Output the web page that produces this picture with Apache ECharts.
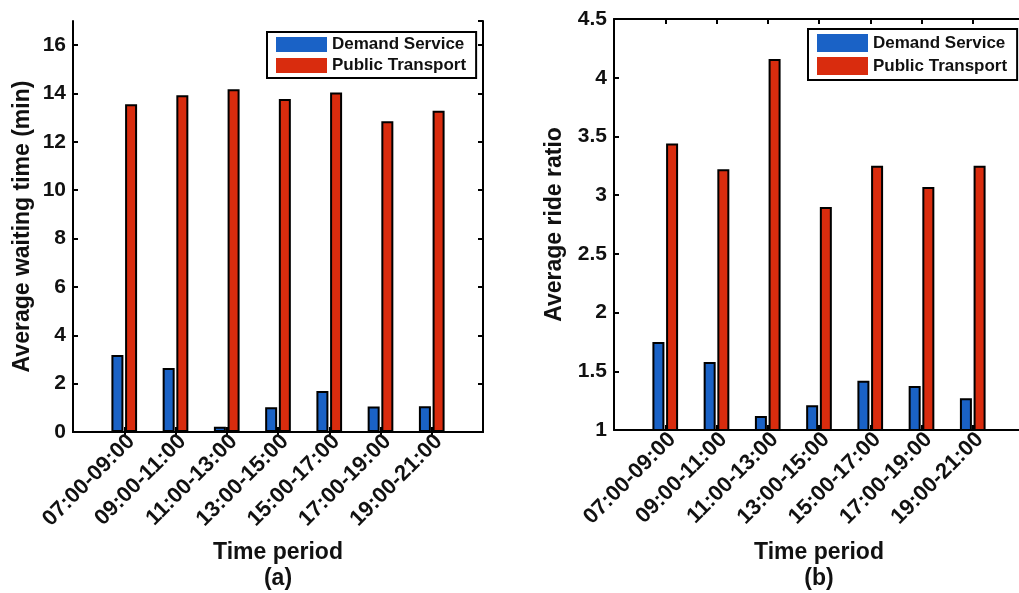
<!DOCTYPE html>
<html><head><meta charset="utf-8">
<script src="https://cdn.jsdelivr.net/npm/echarts@6/dist/echarts.min.js"></script>
<style>html,body{margin:0;padding:0;background:#fff}#c{width:1019px;height:593px}</style>
</head><body><div id="c"></div>
<script>
// ---- data ----
const categories = ['07:00-09:00','09:00-11:00','11:00-13:00','13:00-15:00','15:00-17:00','17:00-19:00','19:00-21:00'];
const seriesNames = ['Demand Service', 'Public Transport'];
const waitDemand = [3.18, 2.65, 0.22, 1.02, 1.70, 1.05, 1.07];
const waitPublic = [13.56, 13.93, 14.18, 13.77, 14.04, 12.85, 13.29];
const rideDemand = [1.75, 1.58, 1.12, 1.21, 1.42, 1.375, 1.27];
const ridePublic = [3.44, 3.22, 4.16, 2.90, 3.25, 3.07, 3.25];
const waitRange = [0, 17, 2];      // min, max, interval
const rideRange = [1, 4.5, 0.5];
const panelLabels = ['(a)', '(b)'];
const yNames = ['Average waiting time (min)', 'Average ride ratio'];
const xName = 'Time period';

// ---- build ----
const FONT = "'Liberation Sans', Arial, Helvetica, sans-serif";
const BLUE = '#1a62c6';
const RED = '#d92c0e';
const padCats = [''].concat(categories, ['']);
const pad = arr => ['-'].concat(arr, ['-']);
const tickFn = (i, v) => v !== '';
const LINE = { color: '#000', width: 2 };

function xAxes(gi, gap) {
  return [
    {
      type: 'category', gridIndex: gi, data: padCats, boundaryGap: false, position: 'bottom',
      axisLine: { lineStyle: LINE },
      axisTick: { inside: true, length: 5, lineStyle: LINE, interval: tickFn },
      axisLabel: { show: false },
      splitLine: { show: false },
      name: xName + '\n' + panelLabels[gi], nameLocation: 'middle', nameGap: gap,
      nameTextStyle: { color: '#111', fontFamily: FONT, fontWeight: 'bold', fontSize: 23, lineHeight: 26 }
    },
    {
      type: 'category', gridIndex: gi, data: padCats, boundaryGap: false, position: 'top',
      axisLine: { lineStyle: LINE },
      axisTick: { inside: true, length: 5, lineStyle: LINE, interval: tickFn },
      axisLabel: { show: false }, splitLine: { show: false }
    }
  ];
}
function labelAxis(gi) {
  return {
    type: 'category', gridIndex: gi, data: padCats, boundaryGap: false, position: 'bottom',
    axisLine: { show: false }, axisTick: { show: false }, splitLine: { show: false },
    axisLabel: { interval: 0, rotate: 45, margin: 6, color: '#111', fontFamily: FONT, fontWeight: 'bold', fontSize: 22 }
  };
}
function yAxes(gi, range, name, gap) {
  const base = {
    type: 'value', gridIndex: gi, min: range[0], max: range[1], interval: range[2],
    axisLine: { show: true, lineStyle: LINE },
    axisTick: { show: true, inside: true, length: 5, lineStyle: LINE },
    splitLine: { show: false }
  };
  return [
    Object.assign({}, base, {
      position: 'left',
      axisLabel: { margin: 7, color: '#111', fontFamily: FONT, fontWeight: 'bold', fontSize: 21, showMaxLabel: range[1] % range[2] === 0 },
      name: name, nameLocation: 'middle', nameGap: gap,
      nameTextStyle: { color: '#111', fontFamily: FONT, fontWeight: 'bold', fontSize: 23 }
    }),
    Object.assign({}, base, { position: 'right', axisLabel: { show: false } })
  ];
}
function hiddenY(gi) {
  return { type: 'value', gridIndex: gi, show: false, min: 0, max: 1 };
}
function bars(gi, demand, pub) {
  const common = { type: 'bar', xAxisIndex: gi * 2, yAxisIndex: gi * 2, barWidth: 12, barGap: '14%',
    animation: false };
  return [
    Object.assign({}, common, { name: seriesNames[0], data: pad(demand),
      itemStyle: { color: BLUE, borderColor: '#000', borderWidth: 2 } }),
    Object.assign({}, common, { name: seriesNames[1], data: pad(pub),
      itemStyle: { color: RED, borderColor: '#000', borderWidth: 2 } })
  ];
}
function legend(left, top, ih, gap, padTop) {
  return {
    orient: 'vertical', left: left, top: top,
    data: seriesNames, icon: 'rect', itemWidth: 51, itemHeight: ih, itemGap: gap,
    padding: [padTop, 10, padTop, 9], borderColor: '#000', borderWidth: 2, backgroundColor: '#fff',
    itemStyle: { borderWidth: 0 },
    textStyle: { color: '#111', fontFamily: FONT, fontWeight: 'bold', fontSize: 17 },
    selectedMode: false
  };
}

const chart = echarts.init(document.getElementById('c'));
const G = { outerBoundsMode: 'none', containLabel: false };
chart.setOption({
  animation: false,
  backgroundColor: '#fff',
  grid: [
    Object.assign({ left: 73, top: 21, width: 410, height: 411 }, G),
    Object.assign({ left: 614, top: 19, width: 410, height: 411 }, G),
    Object.assign({ left: 80, top: 21, width: 410, height: 411 }, G),
    Object.assign({ left: 621, top: 19, width: 410, height: 411 }, G)
  ],
  xAxis: xAxes(0, 108).concat(xAxes(1, 110), [labelAxis(2), labelAxis(3)]),
  yAxis: yAxes(0, waitRange, yNames[0], 39).concat(yAxes(1, rideRange, yNames[1], 48), [hiddenY(2), hiddenY(3)]),
  legend: [legend(267, 32, 15, 4, 4), legend(808, 29, 18, 5, 5)],
  series: bars(0, waitDemand, waitPublic).concat(bars(1, rideDemand, ridePublic))
});
</script></body></html>
